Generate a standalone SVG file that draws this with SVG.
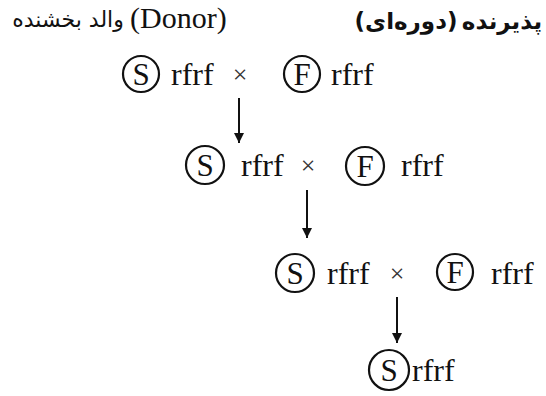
<svg xmlns="http://www.w3.org/2000/svg" width="546" height="396" viewBox="0 0 546 396">
  <style>
    .serif { font-family: "Liberation Serif", "Times New Roman", serif; }
    .gen { font-size: 32px; fill: #111; }
    .letter { font-size: 31px; fill: #111; text-anchor: middle; }
    .ring { fill: none; stroke: #111; stroke-width: 2.2; }
    .cross { font-size: 26px; fill: #333; text-anchor: middle; }
    .fa { font-family: "DejaVu Sans", "Noto Sans", sans-serif; fill: #111; text-anchor: middle; }
    .fa-left { font-size: 22px; }
    .fa-head { font-size: 23px; font-weight: bold; }
    .donor { font-size: 30px; }
    .arrow { stroke: #111; stroke-width: 2; fill: none; }
  </style>
  <defs>
    <marker id="head" viewBox="0 0 10 10" refX="10" refY="5" markerWidth="5" markerHeight="6" orient="auto" markerUnits="strokeWidth">
      <path d="M0,0 L10,5 L0,10 Z" fill="#111"/>
    </marker>
  </defs>
  <rect width="546" height="396" fill="#fff"/>

  <!-- headers -->
  <g id="donor-label">
    <text class="fa fa-left" x="68" y="27">والد بخشنده</text>
    <text class="serif gen donor" x="130" y="28">(Donor)</text>
  </g>
  <g id="recipient-label">
    <text class="fa fa-head" x="406" y="29">(دوره‌ای)</text>
    <text class="fa fa-head" x="502" y="29">پذیرنده</text>
  </g>

  <g class="serif">
    <!-- generation 1 -->
    <g id="s1">
      <circle class="ring" cx="141" cy="74" r="18"/>
      <text class="letter" x="141" y="85">S</text>
      <text class="gen" x="171" y="85">rfrf</text>
    </g>
    <text class="cross" x="240" y="83">×</text>
    <g id="f1">
      <circle class="ring" cx="302" cy="74" r="18"/>
      <text class="letter" x="302" y="85">F</text>
      <text class="gen" x="331" y="85">rfrf</text>
    </g>

    <!-- generation 2 -->
    <g id="s2">
      <circle class="ring" cx="205" cy="165" r="19"/>
      <text class="letter" x="205" y="176">S</text>
      <text class="gen" x="241" y="176">rfrf</text>
    </g>
    <text class="cross" x="308" y="174">×</text>
    <g id="f2">
      <circle class="ring" cx="365" cy="166" r="19"/>
      <text class="letter" x="365" y="177">F</text>
      <text class="gen" x="401" y="176">rfrf</text>
    </g>

    <!-- generation 3 -->
    <g id="s3">
      <circle class="ring" cx="295" cy="273" r="19"/>
      <text class="letter" x="295" y="284">S</text>
      <text class="gen" x="327" y="284">rfrf</text>
    </g>
    <text class="cross" x="397" y="282">×</text>
    <g id="f3">
      <circle class="ring" cx="455" cy="272" r="18"/>
      <text class="letter" x="455" y="283">F</text>
      <text class="gen" x="491" y="284">rfrf</text>
    </g>

    <!-- generation 4 -->
    <g id="s4">
      <circle class="ring" cx="389" cy="370" r="20"/>
      <text class="letter" x="389" y="381">S</text>
      <text class="gen" x="412" y="381">rfrf</text>
    </g>
  </g>

  <!-- connectors -->
  <g id="connectors">
    <line class="arrow" x1="239" y1="98" x2="239" y2="143" marker-end="url(#head)"/>
    <line class="arrow" x1="307" y1="190" x2="307" y2="238" marker-end="url(#head)"/>
    <line class="arrow" x1="397" y1="297" x2="397" y2="343" marker-end="url(#head)"/>
  </g>
</svg>
